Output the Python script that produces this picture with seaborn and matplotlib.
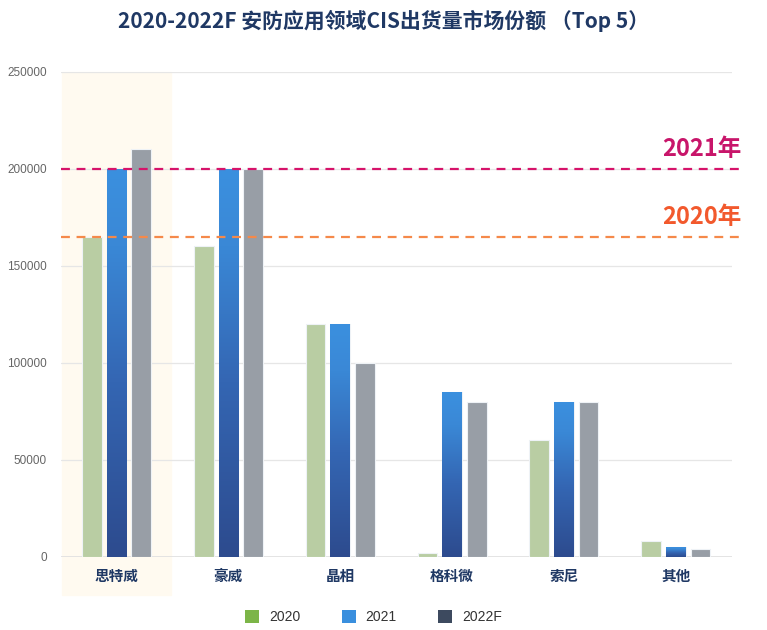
import numpy as np
import pandas as pd
import matplotlib
matplotlib.use('Agg')
import matplotlib.pyplot as plt
import matplotlib.colors as mcolors
from matplotlib.patches import Patch
import seaborn as sns

categories = ['思特威', '豪威', '晶相', '格科微', '索尼', '其他']
years = ['2020', '2021', '2022F']
v2020 = [165000, 160000, 120000, 2000, 60000, 8000]
v2021 = [200000, 200000, 120000, 85000, 80000, 5000]
v2022 = [210000, 200000, 100000, 80000, 80000, 4000]
ref_values = [200000, 165000]
ref_labels = ['2021年', '2020年']

bar_colors = ['#b9d49c', '#3a8fde', '#959ea9']
legend_colors = ['#7cb548', '#3a8fde', '#3d4a5f']
ref_colors = ['#d6136a', '#f5894a']
ref_text_colors = ['#c8156a', '#f2592d']

df = pd.DataFrame({
    'cat': categories * 3,
    'year': [y for y in years for _ in categories],
    'val': v2020 + v2021 + v2022,
})

sns.set_theme(style='white')
plt.rcParams['font.family'] = ['Noto Sans CJK SC', 'DejaVu Sans']

fig = plt.figure(figsize=(7.67, 6.30), dpi=100)
ax = fig.add_axes([0.079, 0.116, 0.875, 0.770])

# highlight band behind first category
ax.axvspan(-0.49, 0.49, ymin=-0.078, ymax=1, color='#fffaf0', zorder=0, clip_on=False)

sns.barplot(data=df, x='cat', y='val', hue='year', palette=bar_colors, width=0.66, gap=0.2,
            edgecolor='#eef2f6', linewidth=0.8, legend=False, ax=ax, zorder=2)

# gradient fill for 2021 bars
cmap = mcolors.LinearSegmentedColormap.from_list(
    'blu', [(0, '#2d4b8e'), (0.45, '#3466b3'), (0.8, '#3a88d6'), (1, '#3b90df')])
grad = np.linspace(0, 1, 256).reshape(-1, 1)
for bar in ax.containers[1]:
    x0, y0 = bar.get_x(), bar.get_y()
    w, h = bar.get_width(), bar.get_height()
    im = ax.imshow(grad, cmap=cmap, origin='lower', aspect='auto',
                   extent=[x0, x0 + w, y0, y0 + h], zorder=2.5)
    im.set_clip_path(bar)

ax.set_xlim(-0.5, 5.5)
ax.set_ylim(0, 250000)
ax.set_yticks([0, 50000, 100000, 150000, 200000, 250000])
ax.yaxis.grid(True, color='#e6e6e6', linewidth=0.9, zorder=1)
ax.set_axisbelow(True)
for s in ax.spines.values():
    s.set_visible(False)
ax.axhline(0, color='#e0e0e0', linewidth=1.2, zorder=1)
ax.set_xlabel('')
ax.set_ylabel('')
ax.tick_params(axis='y', labelsize=8.5, labelcolor='#666666', length=0, pad=10)
ax.tick_params(axis='x', labelsize=10.5, labelcolor='#1f3864', length=0, pad=8)
for t in ax.get_yticklabels():
    t.set_family('Liberation Sans')
for t in ax.get_xticklabels():
    t.set_fontweight('bold')

for val, lab, c, tc in zip(ref_values, ref_labels, ref_colors, ref_text_colors):
    ax.plot([-0.5, 5.6], [val, val], color=c, linestyle=(0, (4, 3)), linewidth=1.6,
            zorder=4, clip_on=False)
    ax.text(5.59, val + 4000, lab, color=tc, fontsize=17, fontweight='bold',
            ha='right', va='bottom', zorder=5)

fig.text(0.5, 0.967, '2020-2022F 安防应用领域CIS出货量市场份额 （Top 5）', ha='center', va='center',
         fontsize=15, fontweight='bold', color='#1f3864')

handles = [Patch(facecolor=c, edgecolor='none') for c in legend_colors]
fig.legend(handles, years, loc='center', bbox_to_anchor=(0.487, 0.02), ncol=3, frameon=False,
           prop={'family': 'Liberation Sans', 'size': 10}, handlelength=1.0, handleheight=1.0,
           columnspacing=3.0, handletextpad=0.7, labelcolor='#333333')

fig.savefig('out.png', dpi=100, facecolor='white')
